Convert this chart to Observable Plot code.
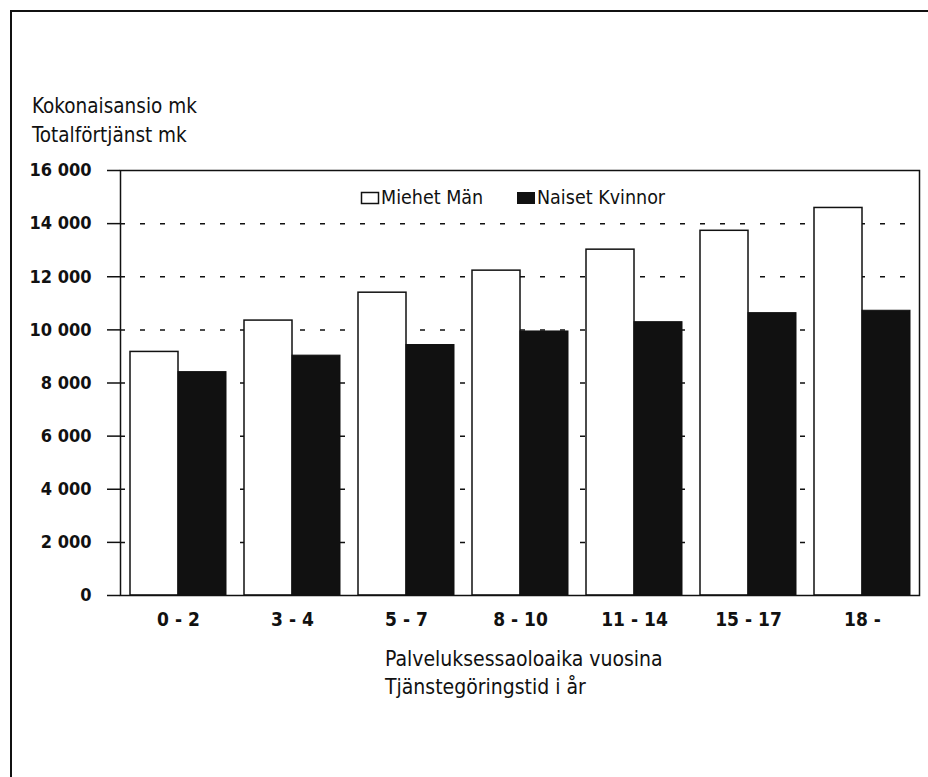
<!DOCTYPE html>
<html>
<head>
<meta charset="utf-8">
<script src="https://cdn.jsdelivr.net/npm/d3@7"></script>
<script src="https://cdn.jsdelivr.net/npm/@observablehq/plot@0.6"></script>
<style>
  html, body { margin: 0; padding: 0; background: #fff; }
  #wrap { position: relative; width: 928px; height: 777px; overflow: hidden; }
  #border { position: absolute; left: 10px; top: 10px; width: 940px; height: 800px;
            border-left: 2px solid #111; border-top: 2px solid #111; box-sizing: border-box; }
  svg { position: absolute; left: 0; top: 0; }
</style>
</head>
<body>
<div id="wrap"><div id="border"></div></div>
<script>
const FONT = "'Liberation Sans Narrow', 'DejaVu Sans Condensed', 'Liberation Sans', sans-serif";

// Data
const groups = ["0 - 2", "3 - 4", "5 - 7", "8 - 10", "11 - 14", "15 - 17", "18 -"];
const men   = [9170, 10350, 11400, 12230, 13020, 13730, 14590];   // Miehet Män
const women = [8410, 9030, 9430, 9940, 10290, 10630, 10720];      // Naiset Kvinnor
const yTicks = [0, 2000, 4000, 6000, 8000, 10000, 12000, 14000, 16000];
const gridTicks = [2000, 4000, 6000, 8000, 10000, 12000, 14000];
const yTitle = ["Kokonaisansio mk", "Totalförtjänst mk"];
const xTitle = ["Palveluksessaoloaika vuosina", "Tjänstegöringstid i år"];
const legendLabels = ["Miehet Män", "Naiset Kvinnor"];

const menData = groups.map((g, i) => ({group: g, value: men[i]}));
const womenData = groups.map((g, i) => ({group: g, value: women[i]}));

const fmt = d3.formatLocale({decimal: ",", thousands: " ", grouping: [3], currency: ["", ""]}).format(",d");

const plot = Plot.plot({
  width: 928,
  height: 777,
  marginLeft: 120,
  marginRight: 9,
  marginTop: 170,
  marginBottom: 182,
  style: {fontFamily: FONT, background: "transparent", color: "#111"},
  x: {domain: groups, paddingInner: 0.158, paddingOuter: 0.08, label: null},
  y: {domain: [0, 16000], label: null},
  marks: [
    Plot.gridY(gridTicks, {stroke: "#111", strokeOpacity: 1, strokeWidth: 1.5, strokeDasharray: "5,15"}),
    Plot.barY(menData, {x: "group", y: "value", fill: "white", stroke: "#111", strokeWidth: 1.5, insetRight: 48}),
    Plot.barY(womenData, {x: "group", y: "value", fill: "#111", stroke: "#111", strokeWidth: 1, insetLeft: 48}),
    Plot.axisY({ticks: yTicks, tickSize: 13, tickPadding: 16, tickFormat: fmt, fontSize: 18, fontWeight: "bold", stroke: "#111", strokeWidth: 1.5, label: null}),
    Plot.axisX({tickSize: 0, tickPadding: 17, fontSize: 19, fontWeight: "bold", label: null}),
    Plot.frame({stroke: "#111", strokeWidth: 1.5})
  ]
});

const wrap = document.getElementById("wrap");
wrap.appendChild(plot);

const svg = d3.select(plot);
const g = svg.append("g").attr("font-family", FONT).attr("fill", "#111").attr("text-anchor", "start");

// Axis titles
g.append("text").attr("font-size", 20.5)
  .selectAll("tspan").data(yTitle).join("tspan")
  .attr("x", 32).attr("y", (d, i) => 113 + i * 29).text(d => d);
g.append("text").attr("font-size", 21)
  .selectAll("tspan").data(xTitle).join("tspan")
  .attr("x", 385).attr("y", (d, i) => 666 + i * 28).text(d => d);

// Legend
const leg = g.append("g").attr("font-size", 19.5);
leg.append("rect").attr("x", 361.5).attr("y", 192.5).attr("width", 17).attr("height", 11)
  .attr("fill", "white").attr("stroke", "#111").attr("stroke-width", 1.5);
leg.append("text").attr("x", 381).attr("y", 204).text(legendLabels[0]);
leg.append("rect").attr("x", 517).attr("y", 192).attr("width", 18).attr("height", 12).attr("fill", "#111");
leg.append("text").attr("x", 537).attr("y", 204).text(legendLabels[1]);
</script>
</body>
</html>
